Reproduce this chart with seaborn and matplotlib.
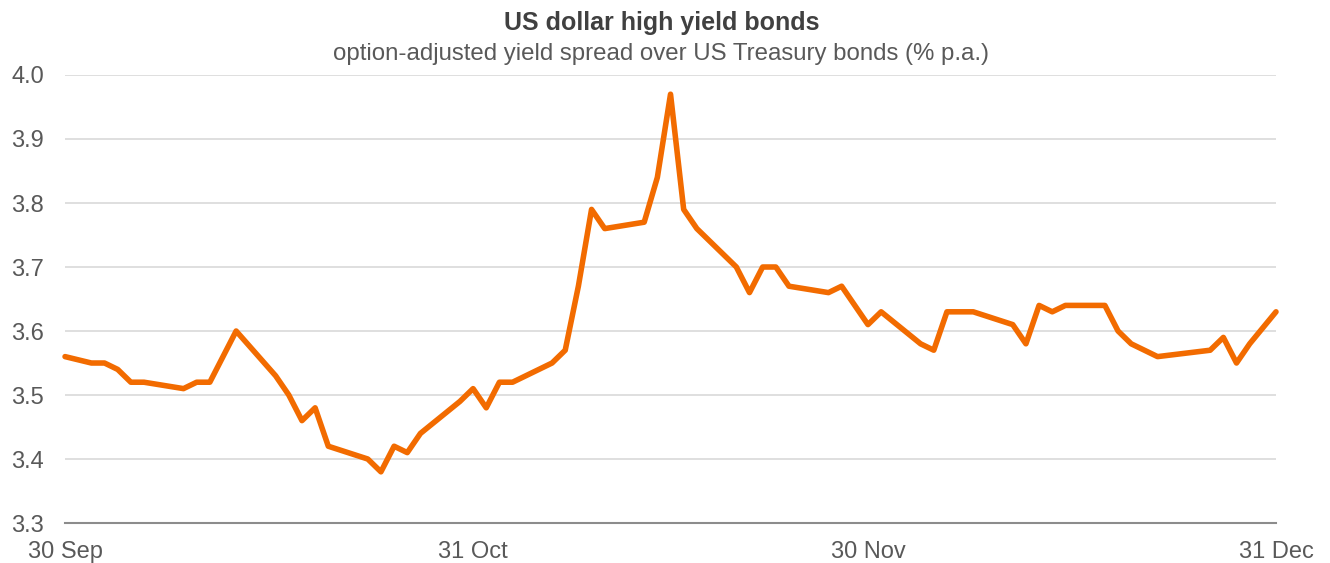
import pandas as pd
import matplotlib
matplotlib.use("Agg")
import matplotlib.pyplot as plt
import seaborn as sns

# US dollar high yield OAS (% p.a.)
dates = [
    "2017-09-30", "2017-10-02", "2017-10-03", "2017-10-04", "2017-10-05", "2017-10-06",
    "2017-10-09", "2017-10-10", "2017-10-11", "2017-10-13", "2017-10-16", "2017-10-17",
    "2017-10-18", "2017-10-19", "2017-10-20", "2017-10-23", "2017-10-24", "2017-10-25",
    "2017-10-26", "2017-10-27", "2017-10-30", "2017-10-31", "2017-11-01", "2017-11-02",
    "2017-11-03", "2017-11-06", "2017-11-07", "2017-11-08", "2017-11-09", "2017-11-10",
    "2017-11-13", "2017-11-14", "2017-11-15", "2017-11-16", "2017-11-17", "2017-11-20",
    "2017-11-21", "2017-11-22", "2017-11-23", "2017-11-24", "2017-11-27", "2017-11-28",
    "2017-11-30", "2017-12-01", "2017-12-04", "2017-12-05", "2017-12-06", "2017-12-08",
    "2017-12-11", "2017-12-12", "2017-12-13", "2017-12-14", "2017-12-15", "2017-12-18",
    "2017-12-19", "2017-12-20", "2017-12-22", "2017-12-26", "2017-12-27", "2017-12-28",
    "2017-12-29", "2017-12-31",
]
spread = [
    3.56, 3.55, 3.55, 3.54, 3.52, 3.52,
    3.51, 3.52, 3.52, 3.60, 3.53, 3.50,
    3.46, 3.48, 3.42, 3.40, 3.38, 3.42,
    3.41, 3.44, 3.49, 3.51, 3.48, 3.52,
    3.52, 3.55, 3.57, 3.67, 3.79, 3.76,
    3.77, 3.84, 3.97, 3.79, 3.76, 3.70,
    3.66, 3.70, 3.70, 3.67, 3.66, 3.67,
    3.61, 3.63, 3.58, 3.57, 3.63, 3.63,
    3.61, 3.58, 3.64, 3.63, 3.64, 3.64,
    3.60, 3.58, 3.56, 3.57, 3.59, 3.55,
    3.58, 3.63,
]
tick_dates = ["2017-09-30", "2017-10-31", "2017-11-30", "2017-12-31"]
tick_labels = ["30 Sep", "31 Oct", "30 Nov", "31 Dec"]
y_ticks = [3.3, 3.4, 3.5, 3.6, 3.7, 3.8, 3.9, 4.0]

df = pd.DataFrame({"date": pd.to_datetime(dates), "spread": spread})

sns.set_style("white")
plt.rcParams["font.family"] = ["Liberation Sans", "DejaVu Sans"]

fig = plt.figure(figsize=(13.3, 5.63), dpi=100)
ax = fig.add_axes([0.0489, 0.0710, 0.9105, 0.7958])

sns.lineplot(data=df, x="date", y="spread", ax=ax, color="#F26B00",
             linewidth=4.0, solid_joinstyle="round", solid_capstyle="round",
             zorder=3, clip_on=False)

ax.set_xlim(pd.Timestamp(tick_dates[0]), pd.Timestamp(tick_dates[-1]))
ax.set_ylim(3.3, 4.0)
ax.set_xticks(pd.to_datetime(tick_dates))
ax.set_xticklabels(tick_labels)
ax.set_yticks(y_ticks)
ax.set_yticklabels([f"{v:.1f}" for v in y_ticks])

# light horizontal gridlines (none on the baseline)
for v in y_ticks[1:]:
    ax.axhline(v, color="#d9d9d9", linewidth=1.2, zorder=1)

for s in ["top", "right", "left"]:
    ax.spines[s].set_visible(False)
ax.spines["bottom"].set_color("#8c8c8c")
ax.spines["bottom"].set_linewidth(1.5)

ax.tick_params(axis="x", direction="out", length=7, width=1.5, color="#8c8c8c",
               labelsize=17, labelcolor="#595959", pad=6)
ax.tick_params(axis="y", length=0, labelsize=17, labelcolor="#595959", pad=15)
ax.set_xlabel("")
ax.set_ylabel("")

fig.text(0.4975, 0.960, "US dollar high yield bonds", ha="center", va="center",
         fontsize=18, fontweight="bold", color="#404040")
fig.text(0.4970, 0.904, "option-adjusted yield spread over US Treasury bonds (% p.a.)",
         ha="center", va="center", fontsize=17.3, color="#595959")

fig.savefig("out.png", dpi=100)
